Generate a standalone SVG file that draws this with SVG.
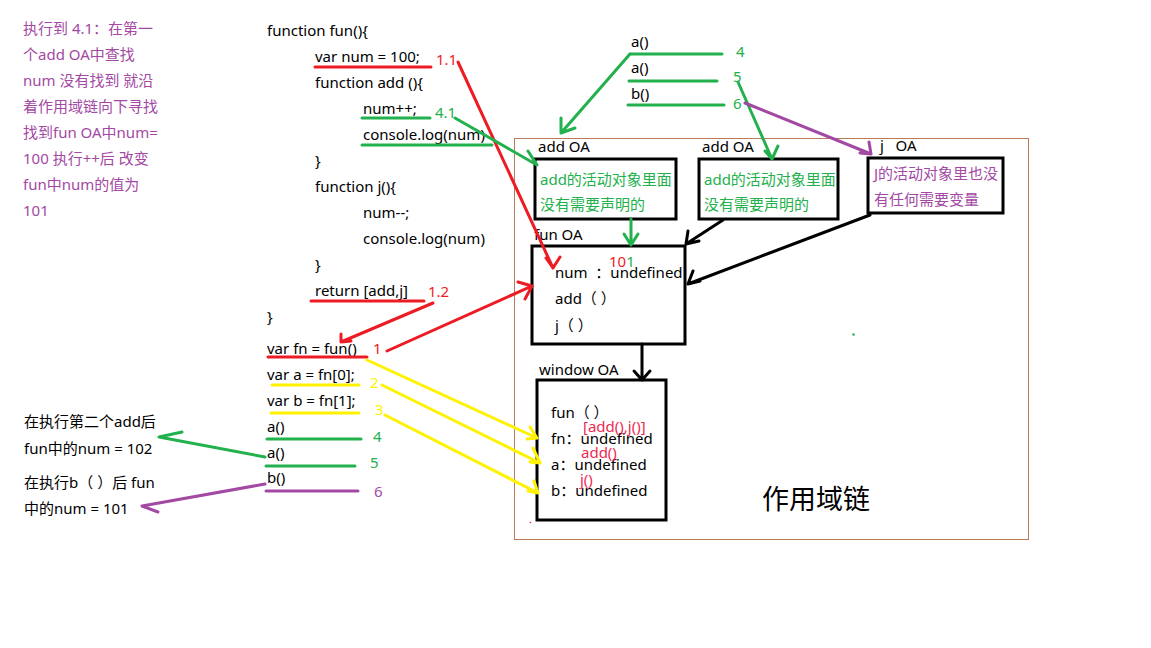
<svg xmlns="http://www.w3.org/2000/svg" width="1151" height="648" viewBox="0 0 1151 648">
<style>
text{font-family:"Noto Sans","Noto Sans CJK SC",sans-serif;font-size:15px;fill:#000;white-space:pre}
.pu{fill:#a349a4}
.gr{fill:#22b14c}
.rd{fill:#ed1c24}
.ye{fill:#fff200}
.pk{fill:#ee2a50}
.box{fill:none;stroke:#000;stroke-width:3}
.l{fill:none;stroke-width:3;stroke-linecap:round;stroke-linejoin:round}
.r{stroke:#ed1c24}
.g{stroke:#22b14c}
.y{stroke:#fff200}
.p{stroke:#a349a4}
.k{stroke:#000}
</style>
<rect width="1151" height="648" fill="#fff"/>
<g id="note-left-top">
<text class="pu" x="23" y="34">执行到 4.1：在第一</text>
<text class="pu" x="23" y="60">个add OA中查找</text>
<text class="pu" x="23" y="86">num 没有找到 就沿</text>
<text class="pu" x="23" y="112">着作用域链向下寻找</text>
<text class="pu" x="23" y="138">找到fun OA中num=</text>
<text class="pu" x="23" y="164">100 执行++后 改变</text>
<text class="pu" x="23" y="190">fun中num的值为</text>
<text class="pu" x="23" y="216">101</text>
</g>
<g id="code">
<text x="267" y="36">function fun(){</text>
<text x="315" y="62">var num = 100;</text>
<text x="315" y="88">function add (){</text>
<text x="363" y="114">num++;</text>
<text x="363" y="140">console.log(num)</text>
<text x="315" y="166">}</text>
<text x="315" y="192">function j(){</text>
<text x="363" y="218">num--;</text>
<text x="363" y="244">console.log(num)</text>
<text x="315" y="270">}</text>
<text x="315" y="296">return [add,j]</text>
<text x="267" y="322">}</text>
<text x="267" y="354">var fn = fun()</text>
<text x="267" y="380">var a = fn[0];</text>
<text x="267" y="406">var b = fn[1];</text>
<text x="267" y="432">a()</text>
<text x="267" y="458">a()</text>
<text x="267" y="483">b()</text>
<text class="rd" x="436" y="65">1.1</text>
<text class="gr" x="435" y="118">4.1</text>
<text class="rd" x="428" y="297">1.2</text>
<text class="rd" x="373" y="354">1</text>
<text class="ye" x="370" y="388">2</text>
<text class="ye" x="375" y="415">3</text>
<text class="gr" x="373" y="442">4</text>
<text class="gr" x="370" y="468">5</text>
<text class="pu" x="374" y="497">6</text>
</g>
<g id="note-left-bottom">
<text x="24" y="427">在执行第二个add后</text>
<text x="24" y="454">fun中的num = 102</text>
<text x="24" y="488">在执行b（ ）后 fun</text>
<text x="24" y="514">中的num = 101</text>
</g>
<g id="calls-top">
<text x="631" y="47">a()</text>
<text x="631" y="73">a()</text>
<text x="631" y="99">b()</text>
<text class="gr" x="736" y="57">4</text>
<text class="gr" x="733" y="82">5</text>
<text class="gr" x="733" y="109">6</text>
</g>
<rect id="scope-frame" x="514.5" y="138.5" width="514" height="401" fill="none" stroke="#b97a57" stroke-width="1"/>
<g id="add-oa-1">
<text x="538" y="152">add OA</text>
<rect class="box" x="535" y="159" width="141" height="60"/>
<text class="gr" x="540" y="185">add的活动对象里面</text>
<text class="gr" x="540" y="210">没有需要声明的</text>
</g>
<g id="add-oa-2">
<text x="702" y="152">add OA</text>
<rect class="box" x="699" y="159" width="139" height="60"/>
<text class="gr" x="704" y="185">add的活动对象里面</text>
<text class="gr" x="704" y="210">没有需要声明的</text>
</g>
<g id="j-oa">
<text x="880" y="151">j   OA</text>
<rect class="box" x="868" y="158" width="135" height="55"/>
<text class="pu" x="874" y="179">J的活动对象里也没</text>
<text class="pu" x="874" y="205">有任何需要变量</text>
</g>
<g id="fun-oa">
<text x="534" y="240">fun OA</text>
<rect class="box" x="532" y="246" width="153" height="98"/>
<text x="555" y="278">num  ：undefined</text>
<text x="555" y="304">add（ ）</text>
<text x="555" y="331">j（ ）</text>
<text x="609" y="267"><tspan class="rd">10</tspan><tspan class="gr">1</tspan></text>
</g>
<g id="window-oa">
<text x="539" y="375">window OA</text>
<rect class="box" x="537" y="380" width="129" height="140"/>
<text x="551" y="418">fun（ ）</text>
<text x="551" y="444">fn：undefined</text>
<text x="551" y="470">a：undefined</text>
<text x="551" y="496">b：undefined</text>
<text class="pk" x="583" y="432">[add(),j()]</text>
<text class="pk" x="581" y="458">add()</text>
<text class="pk" x="580" y="485">j()</text>
</g>
<text id="title" x="762" y="509" style="font-size:27px">作用域链</text>
<g id="connectors">
<path class="l r" d="M315 67H431M311 301H424M268 357H367"/>
<path class="l g" d="M362 118H430M362 145H492M267 439H361M266 466H355M630 54H722M629 81H717M628 105H724"/>
<path class="l y" d="M272 385H359M271 413H359"/>
<path class="l p" d="M266 491H358"/>
<path class="l r" d="M458 62L553 268M546 258L553 268L560 257"/>
<path class="l r" d="M387 351L532 286M518 282L532 286L525 299"/>
<path class="l r" d="M433 303L341 342M341 334L341 342L351 341"/>
<path class="l g" d="M455 118L537 165M528 151L537 165"/>
<path class="l g" d="M630 54L561 133M561 118L561 133L575 128"/>
<path class="l g" d="M738 82L772 159M765 151L772 159L778 146"/>
<path class="l g" d="M631 219L631 245M624 234L631 245L638 234"/>
<path class="l g" d="M265 457L159 437L182 432"/>
<path class="l p" d="M745 103L871 154M869 142L871 154L860 153"/>
<path class="l p" d="M265 484L142 506L158 512"/>
<path class="l y" d="M367 360L537 438M530 427L537 438L527 439"/>
<path class="l y" d="M382 385L540 463M533 448L540 463L530 462"/>
<path class="l y" d="M385 415L538 493M534 481L538 493L528 491"/>
<path class="l k" d="M723 220L686 244M688 231L686 244L699 241"/>
<path class="l k" d="M870 215L688 284M693 271L688 284L700 281"/>
<path class="l k" d="M642 344L642 380M634 371L642 380L650 371"/>
</g>
<circle cx="853.5" cy="334.5" r="1.2" fill="#22b14c"/>
<circle cx="530.5" cy="522.5" r="0.8" fill="#ed1c24"/>
</svg>
